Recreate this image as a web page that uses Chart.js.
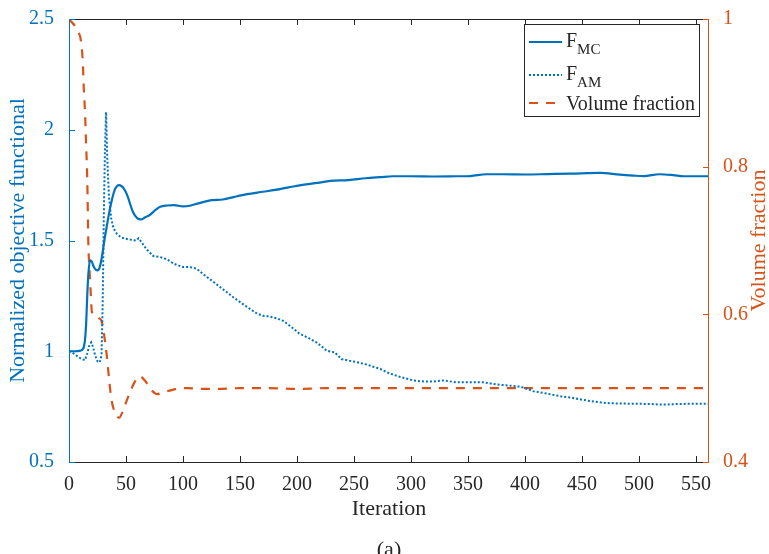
<!DOCTYPE html>
<html>
<head>
<meta charset="utf-8">
<script src="https://cdn.jsdelivr.net/npm/chart.js@4.4.1/dist/chart.umd.min.js"></script>
<style>
  html, body { margin: 0; padding: 0; background: #fff; }
  canvas { display: block; }
</style>
</head>
<body>
<canvas id="c" width="769" height="554"></canvas>
<script>
// values
var fmcIter = [0, 5, 10, 12, 13, 14, 15, 16, 17, 18.5, 20, 22, 25, 27, 29, 31, 33, 36, 40, 44, 48, 51, 56, 60, 63, 67, 71, 76, 80, 86, 92, 100, 106, 115, 125, 135, 145, 156, 170, 185, 198, 208, 218, 229, 245, 260, 273, 284, 300, 320, 340, 352, 366, 380, 400, 420, 440, 466, 483, 495, 504, 518, 530, 539, 550, 561];
var fmcValue = [1.0, 1.0, 1.003, 1.008, 1.02, 1.05, 1.12, 1.25, 1.35, 1.41, 1.405, 1.378, 1.365, 1.38, 1.43, 1.5, 1.56, 1.645, 1.727, 1.75, 1.735, 1.705, 1.63, 1.60, 1.595, 1.605, 1.616, 1.638, 1.652, 1.658, 1.66, 1.654, 1.657, 1.67, 1.682, 1.685, 1.697, 1.709, 1.72, 1.732, 1.745, 1.753, 1.76, 1.769, 1.773, 1.781, 1.786, 1.79, 1.79, 1.789, 1.79, 1.791, 1.799, 1.799, 1.798, 1.800, 1.802, 1.805, 1.797, 1.793, 1.791, 1.799, 1.795, 1.79, 1.79, 1.79];

var famIter = [0, 4, 8, 11, 14, 16, 18, 19.5, 21, 23, 25, 27, 28.5, 29.5, 30.5, 31.5, 32.5, 33.5, 35, 37, 39, 42, 46, 52, 59, 61, 64, 68, 74, 80, 86, 92, 100, 106, 112, 118, 125, 135, 145, 152, 159, 165, 170, 176, 182, 188, 195, 202, 210, 217, 222, 226, 230, 233, 239, 246, 253, 261, 267, 273, 281, 290, 302, 310, 320, 328, 340, 352, 363, 375, 386, 396, 402, 407, 420, 431, 441, 451, 462, 472, 483, 495, 508, 521, 535, 548, 561];
var famValue = [1.0, 0.99, 0.975, 0.965, 0.96, 0.99, 1.03, 1.04, 1.02, 0.98, 0.955, 0.95, 0.98, 1.2, 1.6, 1.9, 2.08, 1.88, 1.7, 1.6, 1.555, 1.53, 1.513, 1.505, 1.5, 1.51, 1.49, 1.46, 1.43, 1.425, 1.415, 1.395, 1.38, 1.38, 1.373, 1.347, 1.32, 1.28, 1.24, 1.215, 1.19, 1.17, 1.16, 1.157, 1.149, 1.137, 1.11, 1.08, 1.06, 1.04, 1.02, 1.002, 0.998, 0.995, 0.965, 0.957, 0.95, 0.94, 0.93, 0.92, 0.90, 0.885, 0.868, 0.864, 0.863, 0.868, 0.86, 0.86, 0.86, 0.85, 0.845, 0.84, 0.83, 0.82, 0.808, 0.797, 0.79, 0.78, 0.772, 0.766, 0.764, 0.763, 0.762, 0.759, 0.762, 0.763, 0.763];

var vfIter = [0, 1, 5, 8, 10, 11, 12, 13, 14, 15, 16, 17, 18, 19, 20, 23, 26, 28.7, 31, 33, 35, 37, 40, 44, 47, 50.6, 55, 59, 62, 66.7, 72, 77, 84, 91.5, 98, 104, 115, 130, 150, 175, 200, 225, 250, 275, 300, 325, 350, 375, 400, 425, 450, 475, 500, 525, 550, 561];
var vfValue = [1.0, 0.998, 0.991, 0.982, 0.975, 0.962, 0.945, 0.905, 0.875, 0.83, 0.784, 0.694, 0.66, 0.631, 0.604, 0.598, 0.595, 0.59, 0.57, 0.546, 0.515, 0.487, 0.468, 0.46, 0.468, 0.483, 0.5, 0.512, 0.516, 0.51, 0.498, 0.492, 0.495, 0.498, 0.5, 0.5, 0.499, 0.499, 0.5, 0.5, 0.499, 0.5, 0.5, 0.5, 0.5, 0.5, 0.5, 0.5, 0.5, 0.5, 0.5, 0.5, 0.5, 0.5, 0.5, 0.5];

var xTicks = [0, 50, 100, 150, 200, 250, 300, 350, 400, 450, 500, 550];
var yTicks = [0.5, 1, 1.5, 2, 2.5];
var y1Ticks = [0.4, 0.6, 0.8, 1];

var BLUE = '#0072BD';
var ORANGE = '#D95319';
var DARK = '#262626';
var SERIF = '"Liberation Serif", "Times New Roman", serif';

function pts(xs, ys) {
  return xs.map(function (x, i) {
    return { x: x, y: ys[i] };
  });
}

function plainLabel(v) {
  return String(v);
}

// axis box with inward ticks, right label, legend and caption
var framePlugin = {
  id: 'frame',
  afterDraw: function (chart) {
    var ctx = chart.ctx;
    var a = chart.chartArea;
    var sx = chart.scales.x, sy = chart.scales.y, sy1 = chart.scales.y1;
    var tl = 6;
    ctx.save();
    ctx.lineWidth = 1;

    ctx.strokeStyle = DARK;
    ctx.beginPath();
    ctx.moveTo(a.left, a.bottom + 0.5); ctx.lineTo(a.right, a.bottom + 0.5);
    ctx.moveTo(a.left, a.top + 0.5); ctx.lineTo(a.right, a.top + 0.5);
    xTicks.forEach(function (v) {
      var px = Math.round(sx.getPixelForValue(v)) + 0.5;
      ctx.moveTo(px, a.bottom); ctx.lineTo(px, a.bottom - tl);
      ctx.moveTo(px, a.top); ctx.lineTo(px, a.top + tl);
    });
    ctx.stroke();

    ctx.strokeStyle = BLUE;
    ctx.beginPath();
    ctx.moveTo(a.left + 0.5, a.top); ctx.lineTo(a.left + 0.5, a.bottom + 1);
    yTicks.forEach(function (v) {
      var py = Math.round(sy.getPixelForValue(v)) + 0.5;
      ctx.moveTo(a.left, py); ctx.lineTo(a.left + tl, py);
    });
    ctx.stroke();

    ctx.strokeStyle = ORANGE;
    ctx.beginPath();
    ctx.moveTo(a.right - 0.5, a.top); ctx.lineTo(a.right - 0.5, a.bottom + 1);
    y1Ticks.forEach(function (v) {
      var py = Math.round(sy1.getPixelForValue(v)) + 0.5;
      ctx.moveTo(a.right, py); ctx.lineTo(a.right - tl, py);
    });
    ctx.stroke();

    // right axis title, reading bottom to top
    ctx.fillStyle = ORANGE;
    ctx.font = '22px ' + SERIF;
    ctx.textAlign = 'center';
    ctx.textBaseline = 'middle';
    ctx.translate(759, (a.top + a.bottom) / 2);
    ctx.rotate(-Math.PI / 2);
    ctx.fillText('Volume fraction', 0, 0);
    ctx.setTransform(1, 0, 0, 1, 0, 0);

    // caption, cut by the bottom edge
    ctx.fillStyle = DARK;
    ctx.textBaseline = 'top';
    ctx.fillText('(a)', (a.left + a.right) / 2, 539);

    // legend
    var bx = 524, by = 24, bw = 175, bh = 92;
    ctx.fillStyle = '#fff';
    ctx.fillRect(bx, by, bw, bh);
    ctx.strokeStyle = DARK;
    ctx.strokeRect(bx + 0.5, by + 0.5, bw, bh);
    var rows = [42, 75, 103];
    chart.data.datasets.forEach(function (ds, i) {
      var y = rows[i];
      ctx.strokeStyle = ds.borderColor;
      ctx.lineWidth = ds.borderWidth;
      ctx.setLineDash(ds.borderDash || []);
      ctx.beginPath();
      ctx.moveTo(529, y); ctx.lineTo(562, y);
      ctx.stroke();
      ctx.setLineDash([]);
      ctx.fillStyle = DARK;
      ctx.textAlign = 'left';
      ctx.textBaseline = 'alphabetic';
      ctx.font = '20px ' + SERIF;
      var base = ds.sub ? y + 5 : y + 7;
      ctx.fillText(ds.label, 566, base);
      if (ds.sub) {
        var w = ctx.measureText(ds.label).width;
        ctx.font = '15px ' + SERIF;
        ctx.fillText(ds.sub, 566 + w, base + 7);
      }
    });
    ctx.restore();
  }
};

var tickFont = { family: SERIF, size: 20 };
var titleFont = { family: SERIF, size: 22 };

new Chart(document.getElementById('c'), {
  type: 'line',
  data: {
    datasets: [
      {
        label: 'F',
        sub: 'MC',
        data: pts(fmcIter, fmcValue),
        yAxisID: 'y',
        borderColor: BLUE,
        borderWidth: 2.2,
        pointRadius: 0,
        cubicInterpolationMode: 'monotone'
      },
      {
        label: 'F',
        sub: 'AM',
        data: pts(famIter, famValue),
        yAxisID: 'y',
        borderColor: BLUE,
        borderWidth: 2,
        borderDash: [2, 2],
        pointRadius: 0,
        tension: 0
      },
      {
        label: 'Volume fraction',
        data: pts(vfIter, vfValue),
        yAxisID: 'y1',
        borderColor: ORANGE,
        borderWidth: 2.2,
        borderDash: [9, 8],
        pointRadius: 0,
        cubicInterpolationMode: 'monotone'
      }
    ]
  },
  options: {
    responsive: false,
    animation: false,
    layout: { padding: { top: 16, left: 0, right: 0, bottom: 0 } },
    plugins: { legend: { display: false }, tooltip: { enabled: false } },
    scales: {
      x: {
        type: 'linear',
        position: 'bottom',
        min: 0,
        max: 561.3,
        afterFit: function (s) { s.height = 92; },
        afterBuildTicks: function (s) {
          s.ticks = xTicks.map(function (v) { return { value: v }; });
        },
        grid: { display: false },
        border: { display: false },
        ticks: { font: tickFont, color: DARK, padding: 3, maxRotation: 0, autoSkip: false, callback: plainLabel },
        title: { display: true, text: 'Iteration', font: titleFont, color: DARK, padding: { top: 0, bottom: 32 } }
      },
      y: {
        position: 'left',
        min: 0.5,
        max: 2.5,
        afterFit: function (s) { s.width = 69; },
        afterBuildTicks: function (s) {
          s.ticks = yTicks.map(function (v) { return { value: v }; });
        },
        grid: { display: false },
        border: { display: false },
        ticks: { font: tickFont, color: BLUE, padding: 7, callback: plainLabel },
        title: { display: true, text: 'Normalized objective functional', font: titleFont, color: BLUE, padding: { top: 5, bottom: 0 } }
      },
      y1: {
        position: 'right',
        min: 0.4,
        max: 1,
        afterFit: function (s) { s.width = 60; },
        afterBuildTicks: function (s) {
          s.ticks = y1Ticks.map(function (v) { return { value: v }; });
        },
        grid: { display: false },
        border: { display: false },
        ticks: { font: tickFont, color: ORANGE, padding: 6, callback: plainLabel }
      }
    }
  },
  plugins: [framePlugin]
});
</script>
</body>
</html>
